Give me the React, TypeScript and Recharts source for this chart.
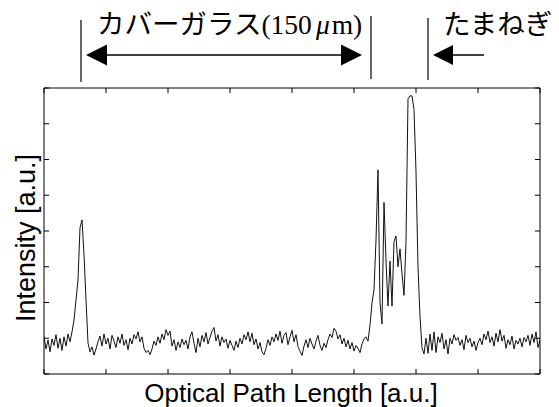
import { LineChart, Line, XAxis, YAxis } from "recharts";

// one sample every ~2px along the optical path (index only)
const intensity = [
  105, 70, 95, 62, 98, 80, 110, 72, 100, 66, 104, 78, 112, 90, 118,
  151, 207, 263, 409, 431, 333, 207, 87, 62, 76, 53, 70, 90,
  106, 78, 112, 84, 100, 70, 108, 92, 74, 104, 86, 112, 80, 96, 68, 100, 84, 110, 98, 118,
  90, 104, 72, 60, 66, 54, 70, 92, 80, 104, 86, 112, 96, 124, 108, 120, 78, 96, 66, 90,
  74, 98, 82, 94, 70, 104, 118, 86, 60, 100, 76, 108, 90, 116, 84, 102, 120, 130, 92, 110,
  78, 104, 88, 98, 72, 94, 80, 66, 92, 74, 100, 84, 110, 96, 118, 90, 114, 82, 98, 70,
  88, 62, 54, 72, 96, 80, 104, 90, 112, 94, 120, 86, 108, 116, 82, 104, 122, 90, 110, 76,
  64, 52, 78, 96, 74, 100, 84, 70, 92, 108, 80, 66, 86, 74, 96, 112, 102, 128, 120, 98,
  110, 84, 100, 76, 94, 70, 88, 64, 80, 72, 60, 84, 98, 104, 92,
  137, 199, 235, 375, 571, 200, 140, 480, 316, 190, 316, 190, 370, 386, 300, 350, 280, 220, 370,
  770, 778, 778, 740, 566, 300, 160, 73, 56,
  100, 58, 112, 66, 118, 60, 104, 88, 114, 70, 96, 56, 100, 84, 110, 94, 102, 80, 96, 68,
  108, 88, 100, 76, 92, 66, 88, 100, 82, 112, 96, 120, 88, 104, 78, 114, 90, 124, 92, 108,
  72, 96, 82, 106, 70, 94, 84, 100, 76, 102, 90, 108, 80, 112, 88, 118, 74, 96,
];

const xTicks = [0, 31, 62, 93, 124, 155, 186, 217, 248];
const yTicks = [0, 100, 200, 300, 400, 500, 600, 700, 800];

const coverLabel = "カバーガラス";
const onionLabel = "たまねぎ";
const xTitle = "Optical Path Length [a.u.]";
const yTitle = "Intensity [a.u.]";

const data = intensity.map((v, i) => ({ pos: i, v }));

// mirrored axes so the ticks point into the plot on all four sides, no tick labels
const axisProps = {
  type: "number" as const,
  mirror: true,
  tick: { fontSize: 0 },
  tickFormatter: () => "",
  tickLine: { stroke: "#000" },
  tickSize: 5,
  allowDataOverflow: true,
  interval: 0 as const,
  stroke: "#000",
};

export default function App() {
  return (
    <div style={{ position: "absolute", left: 0, top: 0, width: 559, height: 407, background: "#fff" }}>
      <LineChart
        width={559}
        height={407}
        data={data}
        margin={{ top: 88, right: 19, bottom: 33, left: 44 }}
      >
        <XAxis {...axisProps} dataKey="pos" xAxisId="b" orientation="bottom" height={1} domain={[0, 248]} ticks={xTicks} />
        <XAxis {...axisProps} xAxisId="t" orientation="top" height={1} domain={[0, 248]} ticks={xTicks} />
        <YAxis {...axisProps} yAxisId="l" orientation="left" width={1} domain={[0, 800]} ticks={yTicks} />
        <YAxis {...axisProps} yAxisId="r" orientation="right" width={1} domain={[0, 800]} ticks={yTicks} />
        <Line
          xAxisId="b"
          yAxisId="l"
          dataKey="v"
          type="linear"
          stroke="#111"
          strokeWidth={1}
          dot={false}
          isAnimationActive={false}
        />
      </LineChart>

      <svg
        width={559}
        height={407}
        style={{ position: "absolute", left: 0, top: 0, pointerEvents: "none" }}
      >
        {/* markers above the plot */}
        <line x1={81} y1={20} x2={81} y2={82} stroke="#000" strokeWidth={1.2} />
        <line x1={371} y1={16} x2={371} y2={79} stroke="#000" strokeWidth={1.2} />
        <line x1={428} y1={18} x2={428} y2={80} stroke="#000" strokeWidth={1.2} />

        <line x1={100} y1={55} x2={350} y2={55} stroke="#000" strokeWidth={1.5} />
        <polygon points="86,55 107,44.5 107,65.5" fill="#000" />
        <polygon points="362,55 341,44.5 341,65.5" fill="#000" />

        <line x1={450} y1={55} x2={484} y2={55} stroke="#000" strokeWidth={1.5} />
        <polygon points="433,55 453,45 453,65" fill="#000" />

        <text x={97} y={34} fontSize={27.5} fontFamily="'Noto Sans CJK JP', sans-serif" fill="#000">
          {coverLabel}
          <tspan fontSize={27.5} fontFamily="'Liberation Serif', serif">(150</tspan>
          <tspan fontSize={27.5} fontFamily="'Liberation Serif', serif" fontStyle="italic" dx={4}>μ</tspan>
          <tspan fontSize={27.5} fontFamily="'Liberation Serif', serif" dx={2}>m)</tspan>
        </text>
        <text x={443} y={34} fontSize={27.5} fontFamily="'Noto Sans CJK JP', sans-serif" fill="#000">
          {onionLabel}
        </text>

        <text x={291} y={402} fontSize={26} textAnchor="middle" fontFamily="'Liberation Sans', Arial, sans-serif" fill="#000">
          {xTitle}
        </text>
        <text
          x={35}
          y={238}
          fontSize={27}
          textAnchor="middle"
          transform="rotate(-90, 35, 238)"
          fontFamily="'Liberation Sans', Arial, sans-serif"
          fill="#000"
        >
          {yTitle}
        </text>
      </svg>
    </div>
  );
}
